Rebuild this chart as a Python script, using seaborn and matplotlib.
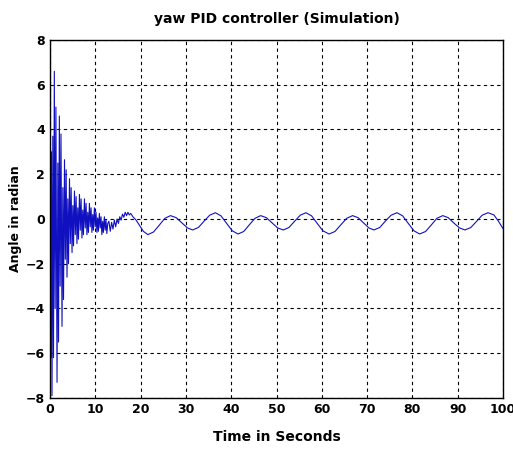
import pandas as pd
import seaborn as sns
import matplotlib
matplotlib.use('Agg')
import matplotlib.pyplot as plt

# Fast decaying oscillation at start
t_fast = [0.00, 0.20, 0.30, 0.44, 0.62, 0.77, 0.95, 1.13, 1.30,
          1.55, 1.73, 1.88, 2.06, 2.24, 2.42,
          2.65, 2.83, 2.98, 3.20, 3.38, 3.56,
          3.75, 3.93, 4.08, 4.30, 4.48, 4.66,
          4.86, 5.04, 5.19, 5.40, 5.58, 5.76,
          5.95, 6.13, 6.28, 6.50, 6.68, 6.86,
          7.05, 7.23, 7.38, 7.60, 7.78, 7.96,
          8.15, 8.33, 8.48, 8.70, 8.88, 9.06,
          9.25, 9.43, 9.58, 9.80, 9.98, 10.16,
          10.35, 10.53, 10.68, 10.90, 11.08, 11.26,
          11.45, 11.63, 11.78, 12.00, 12.18, 12.36,
          12.55, 12.75]
v_fast = [0.3, -6.2, 3.0, -7.9, 3.7, -6.2, 6.6, -4.0, 5.0,
          -7.3, 2.5, -5.5, 4.6, -3.0, 3.8,
          -4.8, 1.4, -3.6, 2.65, -1.8, 2.2,
          -2.6, 0.9, -2.0, 1.8, -1.1, 1.4,
          -1.5, 0.6, -1.2, 1.25, -0.7, 1.0,
          -1.1, 0.5, -0.9, 1.1, -0.5, 0.9,
          -0.85, 0.4, -0.7, 0.9, -0.4, 0.7,
          -0.7, 0.3, -0.6, 0.7, -0.35, 0.5,
          -0.6, 0.2, -0.5, 0.5, -0.35, 0.3,
          -0.6, 0.05, -0.55, 0.25, -0.4, 0.1,
          -0.7, -0.1, -0.6, 0.1, -0.5, -0.05,
          -0.65, -0.2]

# Transition with small ripples
t_mid = [13.0, 13.3, 13.6, 13.9, 14.2, 14.5, 14.8, 15.1, 15.4, 15.7,
         16.0, 16.3, 16.6, 16.9, 17.2, 17.5, 17.8, 18.3, 19.0, 19.8, 20.6]
v_mid = [-0.10, -0.55, -0.15, -0.45, -0.05, -0.35, 0.0, -0.20, 0.10, -0.05,
         0.22, 0.08, 0.30, 0.15, 0.30, 0.18, 0.25, 0.10, -0.05, -0.30, -0.55]

# Slow steady oscillation
t_slow = [21.6, 22.85, 24.1, 25.35, 26.6, 27.85, 29.1, 30.35,
          31.5, 32.75, 34.0, 35.25, 36.5, 37.75, 39.0, 40.25,
          41.5, 42.75, 44.0, 45.25, 46.5, 47.75, 49.0, 50.25,
          51.5, 52.75, 54.0, 55.25, 56.5, 57.75, 59.0, 60.25,
          61.6, 62.9, 64.2, 65.5, 66.8, 68.0, 69.2, 70.4,
          71.5, 72.8, 74.0, 75.3, 76.6, 77.85, 79.1, 80.35,
          81.6, 82.9, 84.2, 85.4, 86.7, 87.9, 89.1, 90.4,
          91.6, 92.9, 94.2, 95.4, 96.7, 98.0, 99.0, 100.0]
v_slow = [-0.70, -0.58, -0.28, 0.03, 0.15, 0.06, -0.17, -0.40,
          -0.49, -0.38, -0.10, 0.17, 0.28, 0.14, -0.20, -0.53,
          -0.67, -0.56, -0.26, 0.03, 0.15, 0.06, -0.17, -0.40,
          -0.49, -0.38, -0.10, 0.17, 0.28, 0.14, -0.20, -0.53,
          -0.67, -0.56, -0.26, 0.03, 0.15, 0.06, -0.17, -0.40,
          -0.49, -0.38, -0.10, 0.17, 0.28, 0.14, -0.20, -0.53,
          -0.67, -0.56, -0.26, 0.03, 0.15, 0.06, -0.17, -0.40,
          -0.49, -0.38, -0.10, 0.17, 0.28, 0.18, -0.10, -0.43]

x_ticks = [0, 10, 20, 30, 40, 50, 60, 70, 80, 90, 100]
y_ticks = [-8, -6, -4, -2, 0, 2, 4, 6, 8]

df = pd.DataFrame({
    'time': t_fast + t_mid + t_slow,
    'angle': v_fast + v_mid + v_slow,
})

sns.set_style('white')
plt.rcParams['font.family'] = ['DejaVu Sans']
plt.rcParams['text.color'] = 'black'
plt.rcParams['axes.labelcolor'] = 'black'

fig = plt.figure(figsize=(5.13, 4.5), dpi=100)
ax = fig.add_axes([0.0975, 0.1156, 0.883, 0.7955])

sns.lineplot(data=df, x='time', y='angle', ax=ax, color='#1010c0',
             linewidth=0.8, estimator=None, sort=False)

ax.set_xlim(0, 100)
ax.set_ylim(-8, 8)
ax.set_xticks(x_ticks)
ax.set_yticks(y_ticks)
ax.grid(True, color='black', linestyle=(0, (3, 3)), linewidth=0.8)
ax.tick_params(direction='in', length=4, width=0.8, colors='black', labelsize=9)
for lab in ax.get_xticklabels() + ax.get_yticklabels():
    lab.set_fontweight('bold')
for s in ax.spines.values():
    s.set_color('black')
    s.set_linewidth(1.0)

ax.set_title('yaw PID controller (Simulation)', fontsize=10, fontweight='bold',
             pad=12, color='black')
ax.set_xlabel('Time in Seconds', fontsize=10, fontweight='bold', labelpad=10)
ax.set_ylabel('Angle in radian', fontsize=9, fontweight='bold', labelpad=3)

fig.savefig('out.png', dpi=100)
